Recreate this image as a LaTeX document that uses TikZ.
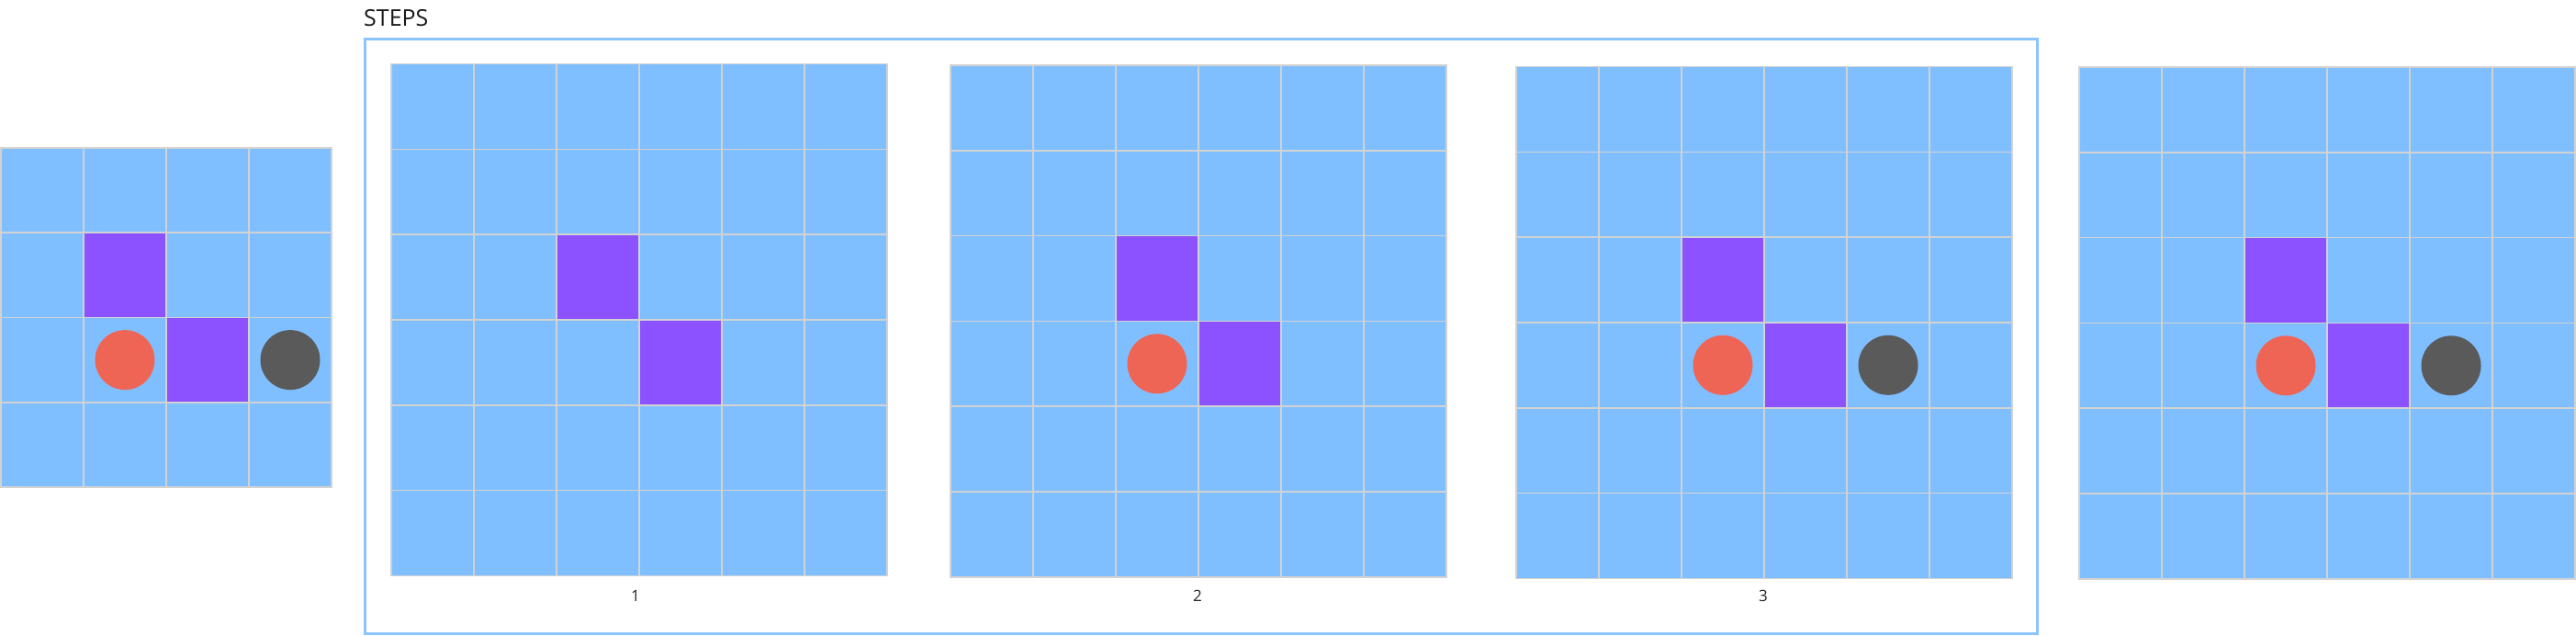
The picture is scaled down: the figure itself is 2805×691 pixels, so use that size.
\documentclass[tikz,border=0pt]{standalone}
\usepackage{fontspec}
\setmainfont{Open Sans}
\definecolor{cellblue}{HTML}{80BFFF}
\definecolor{cellpurple}{HTML}{8C52FF}
\definecolor{dotred}{HTML}{EF6555}
\definecolor{dotdark}{HTML}{5A5A5A}
\definecolor{gridgray}{HTML}{D2D2D2}
\definecolor{framecol}{HTML}{8CC4FF}
\newcommand\mkgrid[4]{%
  \foreach \cc in {0,...,#3}{%
    \foreach \rr in {0,...,#3}{%
      \path[cellbox] ({#1+\cc*90},{#2+\rr*#4}) rectangle ++(90,#4);
    }%
  }%
}
\newcommand\mkpurple[5]{%
  \path[purplebox] ({#1+#3*90},{#2+#4*#5}) rectangle ++(90,#5);
}
\begin{document}
\begin{tikzpicture}[x=1pt,y=-1pt,
  cellbox/.style={fill=cellblue,draw=gridgray,line width=1.6pt},
  purplebox/.style={fill=cellpurple,draw=gridgray,line width=1.6pt},
  reddot/.style={circle,fill=dotred,minimum size=65pt,inner sep=0pt},
  darkdot/.style={circle,fill=dotdark,minimum size=65pt,inner sep=0pt},
  steplabel/.style={font=\fontsize{17}{17}\selectfont,text=black!85},
  titlelabel/.style={font=\fontsize{25}{25}\selectfont,text=black!90}]
\useasboundingbox (0,0) rectangle (2805,691);
\fill[white] (0,0) rectangle (2805,691);

% frame and title
\node[draw=framecol,line width=2.5pt,minimum width=1821pt,minimum height=647pt,inner sep=0pt,anchor=north west] (frame) at (396,41) {};
\node[titlelabel,anchor=base west,inner sep=0pt] (title) at (396,28.3) {STEPS};

% left grid (initial state)
\mkgrid{1}{161}{3}{92.25}
\mkpurple{1}{161}{1}{1}{92.25}
\mkpurple{1}{161}{2}{2}{92.25}
\node[reddot] (r0) at ({1+1.5*90},{161+2.5*92.25}) {};
\node[darkdot] (d0) at ({1+3.5*90},{161+2.5*92.25}) {};

% step 1
\mkgrid{426}{69.5}{5}{92.8}
\mkpurple{426}{69.5}{2}{2}{92.8}
\mkpurple{426}{69.5}{3}{3}{92.8}
\node[steplabel] (l1) at (692,648) {1};

% step 2
\mkgrid{1035}{71}{5}{92.8}
\mkpurple{1035}{71}{2}{2}{92.8}
\mkpurple{1035}{71}{3}{3}{92.8}
\node[reddot] (r2) at ({1035+2.5*90},{71+3.5*92.8}) {};
\node[steplabel] (l2) at (1304,648) {2};

% step 3
\mkgrid{1651}{72.5}{5}{92.8}
\mkpurple{1651}{72.5}{2}{2}{92.8}
\mkpurple{1651}{72.5}{3}{3}{92.8}
\node[reddot] (r3) at ({1651+2.5*90},{72.5+3.5*92.8}) {};
\node[darkdot] (d3) at ({1651+4.5*90},{72.5+3.5*92.8}) {};
\node[steplabel] (l3) at (1920,648) {3};

% final state
\mkgrid{2264}{73}{5}{92.8}
\mkpurple{2264}{73}{2}{2}{92.8}
\mkpurple{2264}{73}{3}{3}{92.8}
\node[reddot] (r4) at ({2264+2.5*90},{73+3.5*92.8}) {};
\node[darkdot] (d4) at ({2264+4.5*90},{73+3.5*92.8}) {};
\end{tikzpicture}
\end{document}
